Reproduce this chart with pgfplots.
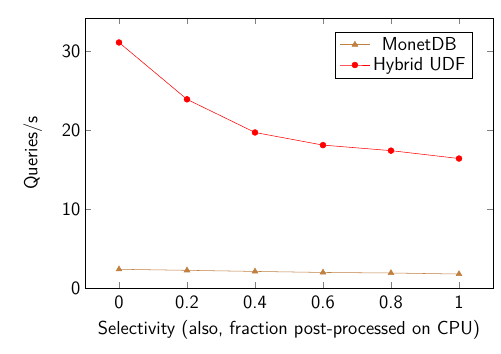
\documentclass[border=0pt]{standalone}
\usepackage{pgfplots}
\pgfplotsset{compat=1.18}
\renewcommand{\familydefault}{\sfdefault}
\begin{document}
\begin{tikzpicture}
\path[use as bounding box] (-63.75pt,-49.5pt) rectangle (312pt,216pt);
\begin{axis}[
  at={(0,0)}, anchor=south west,
  scale only axis,
  width=306pt, height=202.5pt,
  xmin=-0.1, xmax=1.1,
  ymin=0, ymax=34.2,
  xtick={0,0.2,0.4,0.6,0.8,1},
  ytick={0,10,20,30},
  font=\fontsize{14.1}{17}\selectfont,
  /pgf/number format/assume math mode=true,
  xlabel={Selectivity (also, fraction post-processed on CPU)},
  ylabel={Queries/s},
  xticklabel shift=2pt,
  xlabel shift=2pt,
  ylabel shift=8pt,
  legend style={at={(0.95,0.95)}, anchor=north east, font=\fontsize{14.1}{17}\selectfont},
  legend image code/.code={\draw[mark repeat=2,mark phase=2] plot coordinates {(0cm,0cm) (0.4cm,0cm) (0.8cm,0cm)};},
]
\addplot[color=brown, thin, mark=triangle*, mark size=2.5pt] coordinates {
(0,2.37) (0.2,2.24) (0.4,2.1) (0.6,1.97) (0.8,1.9) (1,1.77)
};
\addlegendentry{MonetDB}
\addplot[color=red, thin, mark=*, mark size=2.2pt] coordinates {
(0,31.1) (0.2,23.9) (0.4,19.7) (0.6,18.1) (0.8,17.4) (1,16.4)
};
\addlegendentry{Hybrid UDF}
\end{axis}
\end{tikzpicture}
\end{document}
